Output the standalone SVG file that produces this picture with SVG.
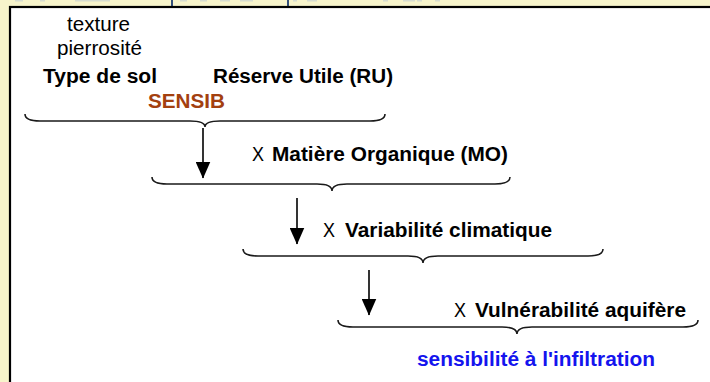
<svg xmlns="http://www.w3.org/2000/svg" width="710" height="382" viewBox="0 0 710 382">
<style>
.t{font-family:"Liberation Sans",Arial,sans-serif;font-size:19.5px;fill:#000}
.b{font-weight:bold}
.br{fill:none;stroke:#1a1a1a;stroke-width:1.6}
.ar{stroke:#000;stroke-width:1.6}
.frag{fill:#d6dccf}
</style>
<defs>
<marker id="ah" markerUnits="userSpaceOnUse" markerWidth="17" markerHeight="15" refX="16.5" refY="7.5" orient="auto" viewBox="0 0 17 15">
<path d="M0,0 L17,7.5 L0,15 Z" fill="#000"/>
</marker>
</defs>
<rect x="0" y="0" width="710" height="382" fill="#F7F4CB"/>
<g id="top-fragments">
<rect class="frag" x="15" y="0" width="8" height="1.5"/>
<rect class="frag" x="40" y="0" width="5" height="1.5"/>
<rect class="frag" x="75" y="0" width="35" height="1.5"/>
<rect x="171" y="0" width="2" height="6" fill="#34507a"/>
<rect class="frag" x="180" y="0" width="7" height="1.5"/>
<rect class="frag" x="200" y="0" width="7" height="1.5"/>
<rect class="frag" x="220" y="0" width="10" height="1.5"/>
<rect class="frag" x="240" y="0" width="13" height="1.5"/>
<rect x="287" y="0" width="2" height="6" fill="#34507a"/>
<rect class="frag" x="293" y="0" width="4" height="1.5"/>
<rect class="frag" x="307" y="0" width="10" height="1.5"/>
<rect class="frag" x="383" y="0" width="5" height="1.5"/>
<rect class="frag" x="403" y="0" width="12" height="1.5"/>
<rect class="frag" x="417" y="0" width="5" height="1.5"/>
<rect class="frag" x="435" y="0" width="5" height="1.5"/>
</g>
<rect x="10" y="7" width="720" height="400" fill="#fff" stroke="#000" stroke-width="2.2"/>

<g id="connectors">
<path class="br" d="M25,114 Q25,121 40,121 L190,121 Q205,121 205,127 Q205,121 220,121 L370,121 Q385,121 385,114"/>
<path class="br" d="M152,177 Q152,184 167,184 L317,184 Q332,184 332,191 Q332,184 347,184 L495,184 Q510,184 510,177"/>
<path class="br" d="M243,249 Q243,256 258,256 L408,256 Q423,256 423,263 Q423,256 438,256 L588,256 Q603,256 603,249"/>
<path class="br" d="M338,320 Q338,327 353,327 L502,327 Q517,327 517,334 Q517,327 532,327 L683,327 Q698,327 698,320"/>
<line class="ar" x1="203" y1="128" x2="203" y2="178" marker-end="url(#ah)"/>
<line class="ar" x1="297" y1="198" x2="297" y2="244" marker-end="url(#ah)"/>
<line class="ar" x1="369" y1="270" x2="369" y2="315" marker-end="url(#ah)"/>
</g>

<g id="sol">
<text class="t" x="67" y="31" textLength="63" lengthAdjust="spacingAndGlyphs">texture</text>
<text class="t" x="57" y="55" textLength="85" lengthAdjust="spacingAndGlyphs">pierrosité</text>
<text class="t b" x="43" y="83" textLength="114" lengthAdjust="spacingAndGlyphs">Type de sol</text>
</g>
<g id="ru">
<text class="t b" x="213" y="83" textLength="180" lengthAdjust="spacingAndGlyphs">Réserve Utile (RU)</text>
</g>
<g id="sensib">
<text class="t b" x="148" y="108" textLength="77" lengthAdjust="spacingAndGlyphs" style="fill:#A3400F">SENSIB</text>
</g>
<g id="mo">
<text class="t" x="252" y="161" textLength="12" lengthAdjust="spacingAndGlyphs">X</text>
<text class="t b" x="272" y="161" textLength="236" lengthAdjust="spacingAndGlyphs">Matière Organique (MO)</text>
</g>
<g id="climat">
<text class="t" x="323" y="237" textLength="12" lengthAdjust="spacingAndGlyphs">X</text>
<text class="t b" x="345" y="237" textLength="207" lengthAdjust="spacingAndGlyphs">Variabilité climatique</text>
</g>
<g id="aquifere">
<text class="t" x="454" y="317" textLength="12" lengthAdjust="spacingAndGlyphs">X</text>
<text class="t b" x="475" y="317" textLength="211" lengthAdjust="spacingAndGlyphs">Vulnérabilité aquifère</text>
</g>
<g id="resultat">
<text class="t b" x="417" y="366" textLength="238" lengthAdjust="spacingAndGlyphs" style="fill:#1414EE">sensibilité à l'infiltration</text>
</g>
</svg>
